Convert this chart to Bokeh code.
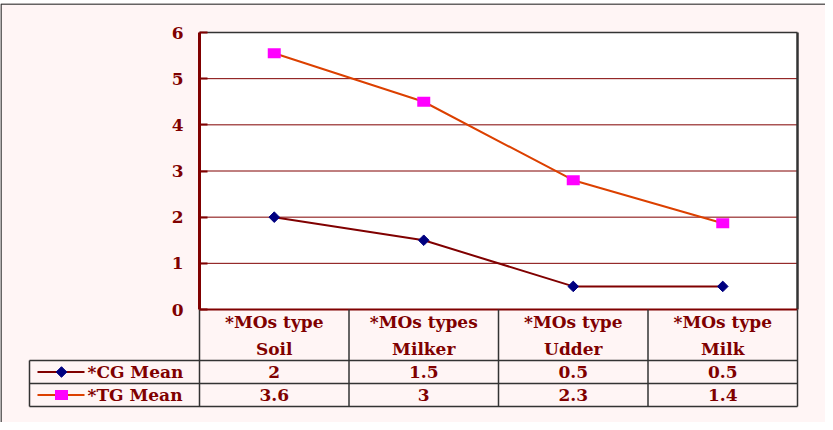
from bokeh.plotting import figure
from bokeh.models import Range1d, FixedTicker
from bokeh.core.properties import value
from bokeh.embed import file_html
from bokeh.resources import INLINE
import numpy as np

# ---------------- data ----------------
categories = ["*MOs type\nSoil", "*MOs types\nMilker", "*MOs type\nUdder", "*MOs type\nMilk"]
cg_mean = [2.0, 1.5, 0.5, 0.5]          # plotted CG values
tg_mean = [5.55, 4.5, 2.8, 1.87]        # plotted TG values
cg_table = ["2", "1.5", "0.5", "0.5"]   # data-table texts
tg_table = ["3.6", "3", "2.3", "1.4"]
series_names = ["*CG Mean", "*TG Mean"]
y_ticks = [0, 1, 2, 3, 4, 5, 6]

# ---------------- layout ----------------
W, H = 825, 422
TOP_PAD = 3
PX_X = 149.5          # pixels per category
PX_Y = 277 / 6        # pixels per y unit
PLOT_LEFT = 199       # plot-area left, figure px
PLOT_BOTTOM = 309 - TOP_PAD   # y=0 position inside frame, px from frame top
n = len(categories)
ymax = y_ticks[-1]

x0 = -PLOT_LEFT / PX_X
x1 = (W - PLOT_LEFT) / PX_X
y_top = PLOT_BOTTOM / PX_Y
y_bot = -(H - TOP_PAD - PLOT_BOTTOM) / PX_Y

DARK_RED = "#800000"
GRAY = "#333333"
PINK = "#FFF5F5"
FONT_NAME = "DejaVu Serif"
FONT = value(FONT_NAME)
FS = "17px"

p = figure(width=W, height=H, output_backend="svg", toolbar_location=None,
           x_range=Range1d(x0, x1), y_range=Range1d(y_bot, y_top),
           x_axis_location=None, min_border=0, min_border_top=TOP_PAD,
           border_fill_color="white", background_fill_color=PINK,
           outline_line_color=None)
p.grid.visible = False

# outer chart border (left/top edges visible)
hx, hy = 0.5 / PX_X, 0.5 / PX_Y
p.quad(left=[x0 + hx], right=[x1 + 1], top=[y_top - hy], bottom=[y_bot - 1],
       fill_color=PINK, line_color=GRAY, line_width=1.5)

# plot area
p.quad(left=[0], right=[n], bottom=[0], top=[ymax], fill_color="white", line_color=None)
grid_y = y_ticks[1:-1]
p.segment(x0=[0] * len(grid_y), x1=[n] * len(grid_y), y0=grid_y, y1=grid_y,
          line_color=DARK_RED, line_width=1)
p.segment(x0=[0], x1=[n], y0=[ymax], y1=[ymax], line_color=GRAY, line_width=1.5)
p.segment(x0=[n], x1=[n], y0=[0], y1=[ymax], line_color=GRAY, line_width=2.5)
p.segment(x0=[0], x1=[n], y0=[0], y1=[0], line_color=DARK_RED, line_width=2)

# data table geometry (in y units)
cat_row_h = 51 / PX_Y
val_row_h = 23 / PX_Y
legend_left = -170 / PX_X
r0 = -cat_row_h
r1 = r0 - val_row_h
r2 = r1 - val_row_h

vx = list(range(n + 1))
p.segment(x0=vx, x1=vx, y0=[0] * len(vx), y1=[r2] * len(vx), line_color=GRAY, line_width=1.5)
p.segment(x0=[legend_left], x1=[legend_left], y0=[r0], y1=[r2], line_color=GRAY, line_width=1.5)
p.segment(x0=[legend_left] * 3, x1=[n] * 3, y0=[r0, r1, r2], y1=[r0, r1, r2],
          line_color=GRAY, line_width=1.5)

# series
xc = [i + 0.5 for i in range(n)]
p.line(xc, cg_mean, line_color=DARK_RED, line_width=2)
p.line(xc, tg_mean, line_color="#DC4000", line_width=2)
p.scatter(xc, cg_mean, marker="square", size=7.5, angle=np.pi / 4,
          fill_color="#000080", line_color="#000080")
p.rect(xc, tg_mean, width=13, height=10, width_units="screen", height_units="screen",
       fill_color="#FF00FF", line_color=None)

# category labels
p.text(x=xc, y=[r0 / 2] * n, text=categories, text_align="center", text_baseline="middle",
       text_font=FONT, text_font_style="bold", text_font_size=FS, text_color=DARK_RED,
       text_line_height=1.35)
# table values
row_c = [(r0 + r1) / 2, (r1 + r2) / 2]
p.text(x=xc, y=[row_c[0]] * n, text=cg_table, text_align="center", text_baseline="middle",
       text_font=FONT, text_font_style="bold", text_font_size=FS, text_color=DARK_RED)
p.text(x=xc, y=[row_c[1]] * n, text=tg_table, text_align="center", text_baseline="middle",
       text_font=FONT, text_font_style="bold", text_font_size=FS, text_color=DARK_RED)

# legend keys
kx0, kx1, km, kt = -162 / PX_X, -115 / PX_X, -138 / PX_X, -112 / PX_X
p.segment(x0=[kx0], x1=[kx1], y0=[row_c[0]], y1=[row_c[0]], line_color=DARK_RED, line_width=2)
p.scatter([km], [row_c[0]], marker="square", size=7.5, angle=np.pi / 4,
          fill_color="#000080", line_color="#000080")
p.segment(x0=[kx0], x1=[kx1], y0=[row_c[1]], y1=[row_c[1]], line_color="#DC4000", line_width=2)
p.rect([km], [row_c[1]], width=13, height=10, width_units="screen", height_units="screen",
       fill_color="#FF00FF", line_color=None)
p.text(x=[kt, kt], y=row_c, text=series_names, text_align="left", text_baseline="middle",
       text_font=FONT, text_font_style="bold", text_font_size=FS, text_color=DARK_RED)

# y axis at the plot-area left edge
ax = p.yaxis[0]
ax.fixed_location = 0
ax.bounds = (0, ymax)
ax.ticker = FixedTicker(ticks=y_ticks)
ax.axis_line_color = DARK_RED
ax.axis_line_width = 3
ax.major_tick_line_color = DARK_RED
ax.major_tick_line_width = 2
ax.major_tick_in = 8
ax.major_tick_out = 0
ax.minor_tick_line_color = None
ax.major_label_standoff = 16
ax.major_label_text_font = FONT_NAME
ax.major_label_text_font_style = "bold"
ax.major_label_text_font_size = FS
ax.major_label_text_color = DARK_RED

open("out.html", "w").write(file_html(p, INLINE))
